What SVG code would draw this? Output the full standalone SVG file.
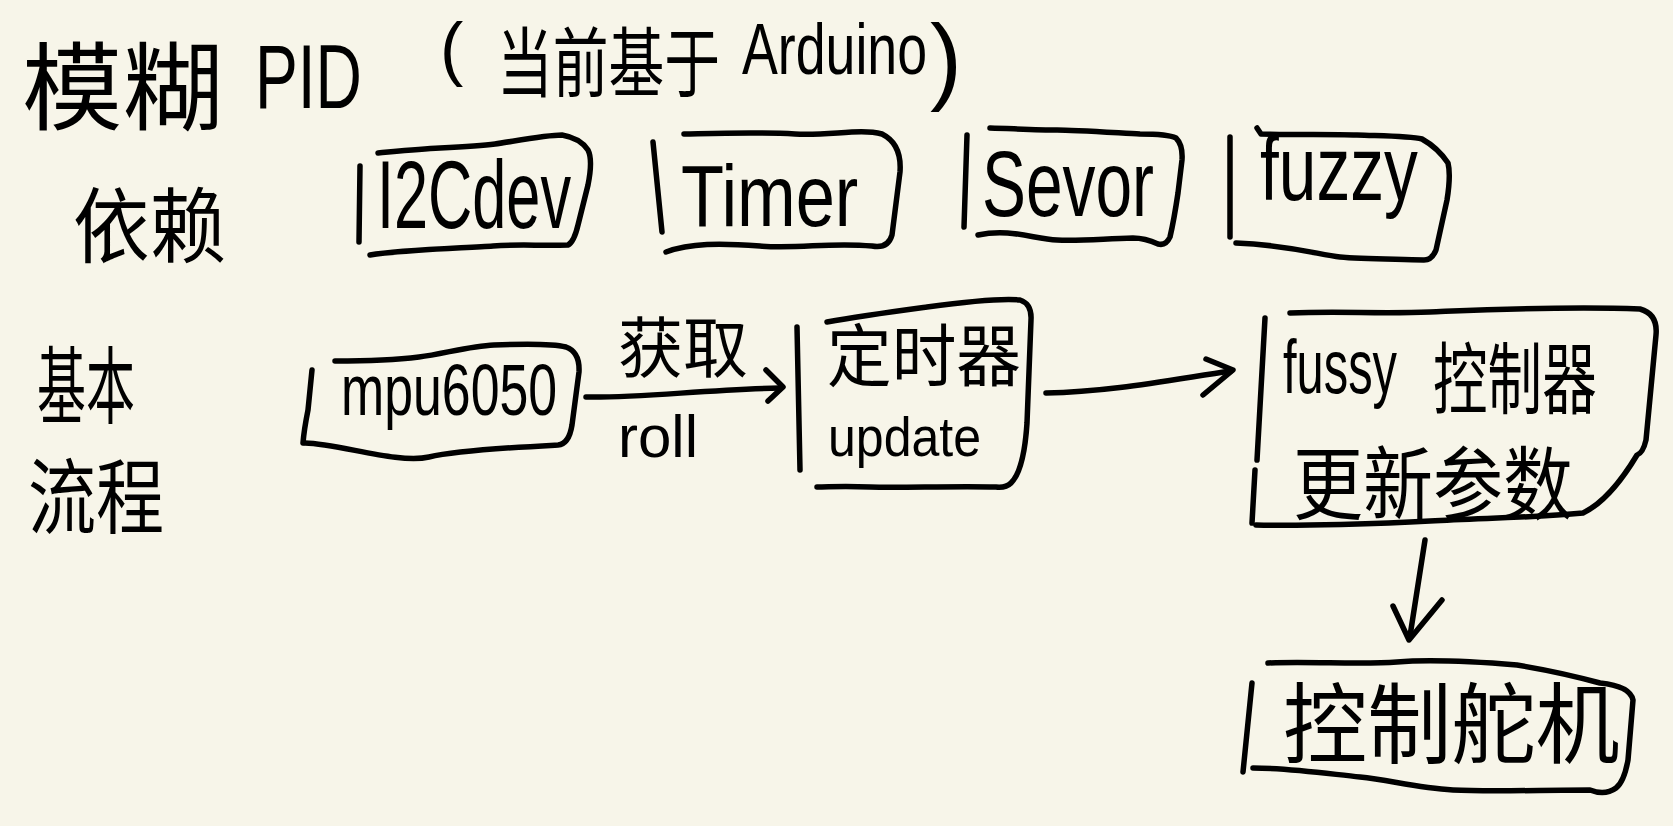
<svg xmlns="http://www.w3.org/2000/svg" width="1673" height="826" viewBox="0 0 1673 826">
<style>
.ink{fill:none;stroke:#000;stroke-width:5.5;stroke-linecap:round;stroke-linejoin:round}
.t{fill:#000;font-family:"Liberation Sans","Noto Sans CJK SC",sans-serif}
.c{fill:#000;font-family:"Noto Sans CJK SC","Noto Sans CJK TC",sans-serif}
</style>
<rect x="0" y="0" width="1673" height="826" fill="#f7f5e9"/>
<g id="title">
<text class="c" font-size="96" transform="translate(22,122) scale(1.047,1)">模糊</text>
<text class="t" font-size="90" transform="translate(255,108) scale(0.713,1)">PID</text>
<text class="t" font-size="70" transform="translate(440,72)">(</text>
<text class="c" font-size="76" transform="translate(497,91) scale(0.734,1)">当前基于</text>
<text class="t" font-size="72" transform="translate(742,74) scale(0.746,1)">Arduino</text>
<text class="t" font-size="96" transform="translate(930,92)">)</text>
</g>
<g id="label-deps">
<text class="c" font-size="82" transform="translate(73,256) scale(0.933,1)">依赖</text>
</g>
<g id="label-flow">
<text class="c" font-size="84" transform="translate(37,417) scale(0.583,1)">基本</text>
<text class="c" font-size="82" transform="translate(28,527) scale(0.83,1)">流程</text>
</g>
<g id="node-i2cdev">
<path class="ink" d="M360,166 L359,242"/>
<path class="ink" d="M378,153 C400,151 420,149 440,148 S480,146 495,144 S545,135 562,135 Q580,138 588,150 Q593,160 588,185 L578,225 Q574,242 568,245 C540,246 520,244 493,246 S400,250 370,255"/>
<text class="t" font-size="96" transform="translate(377,228) scale(0.638,1)">I2Cdev</text>
</g>
<g id="node-timer">
<path class="ink" d="M653,142 L662,232"/>
<path class="ink" d="M684,134 C730,133 760,132 795,134 S860,128 882,134 Q902,144 900,172 L892,235 Q888,249 872,246 C830,242 800,249 760,246 S690,243 666,252"/>
<text class="t" font-size="88" transform="translate(681,226) scale(0.8,1)">Timer</text>
</g>
<g id="node-sevor">
<path class="ink" d="M967,135 L964,227"/>
<path class="ink" d="M990,128 C1020,129 1040,130 1057,130 S1120,133 1140,134 Q1168,134 1176,138 Q1183,145 1182,160 L1178,193 Q1174,220 1170,237 Q1166,246 1158,244 Q1145,238 1133,238 C1100,239 1080,241 1057,240 S1010,228 978,235"/>
<text class="t" font-size="92" transform="translate(982,216) scale(0.716,1)">Sevor</text>
</g>
<g id="node-fuzzy">
<path class="ink" d="M1230,137 L1230,237"/>
<path class="ink" d="M1257,128 L1261,134 C1300,135 1330,134 1357,135 S1410,136 1422,139 Q1438,148 1448,163 Q1451,175 1447,200 L1436,250 Q1432,260 1424,260 C1390,259 1360,259 1340,257 S1290,245 1236,243"/>
<text class="t" font-size="90" transform="translate(1260,200) scale(0.752,1)">fuzzy</text>
</g>
<g id="node-mpu6050">
<path class="ink" d="M312,370 L308,410 Q304,430 303,443"/>
<path class="ink" d="M335,361 C370,361 395,360 419,357 S470,346 494,345 S550,343 566,347 Q580,352 579,372 L572,425 Q569,444 558,445 C520,447 460,450 429,457 S340,444 305,443"/>
<text class="t" font-size="72" transform="translate(341,415) scale(0.72,1)">mpu6050</text>
</g>
<g id="node-timer-update">
<path class="ink" d="M797,327 L800,470"/>
<path class="ink" d="M827,322 C860,316 890,312 927,307 S1000,298 1020,300 Q1032,304 1031,320 L1027,423 Q1024,470 1011,483 Q1006,488 996,487 C950,486 900,488 870,487 S830,487 817,487"/>
<text class="c" font-size="68" transform="translate(827,381) scale(0.951,1)">定时器</text>
<text class="t" font-size="56" transform="translate(828,456) scale(0.894,1)">update</text>
</g>
<g id="node-fussy">
<path class="ink" d="M1265,318 L1257,460 M1255,470 L1252,523"/>
<path class="ink" d="M1290,313 C1340,311 1380,314 1430,312 S1560,306 1640,309 Q1658,314 1656,335 L1646,440 Q1643,453 1637,455 Q1610,500 1583,513 C1530,518 1480,518 1430,521 S1300,526 1256,525"/>
<text class="t" font-size="76" transform="translate(1283,393) scale(0.643,1)">fussy</text>
<text class="c" font-size="78" transform="translate(1433,408) scale(0.70,1)">控制器</text>
<text class="c" font-size="80" transform="translate(1293,513) scale(0.875,1)">更新参数</text>
</g>
<g id="node-servo">
<path class="ink" d="M1252,683 L1243,772"/>
<path class="ink" d="M1268,663 C1310,661 1360,665 1397,662 S1480,662 1517,665 Q1560,672 1600,683 Q1630,686 1633,700 L1628,760 Q1624,782 1616,788 Q1605,796 1590,790 C1540,790 1490,792 1453,790 S1390,780 1360,777 S1290,768 1253,768"/>
<text class="c" font-size="88" transform="translate(1283,756) scale(0.957,1)">控制舵机</text>
</g>
<g id="connectors">
<path class="ink" d="M586,397 C640,398 700,390 780,388"/>
<path class="ink" d="M766,370 L783,387 L768,401"/>
<text class="c" font-size="66" transform="translate(618,372) scale(0.985,1)">获取</text>
<text class="t" font-size="60" transform="translate(618,457)">roll</text>
<path class="ink" d="M1046,393 C1110,392 1170,380 1231,371"/>
<path class="ink" d="M1206,359 L1233,370 L1203,395"/>
<path class="ink" d="M1425,540 L1410,636"/>
<path class="ink" d="M1393,606 L1409,640 L1442,600"/>
</g>
</svg>
